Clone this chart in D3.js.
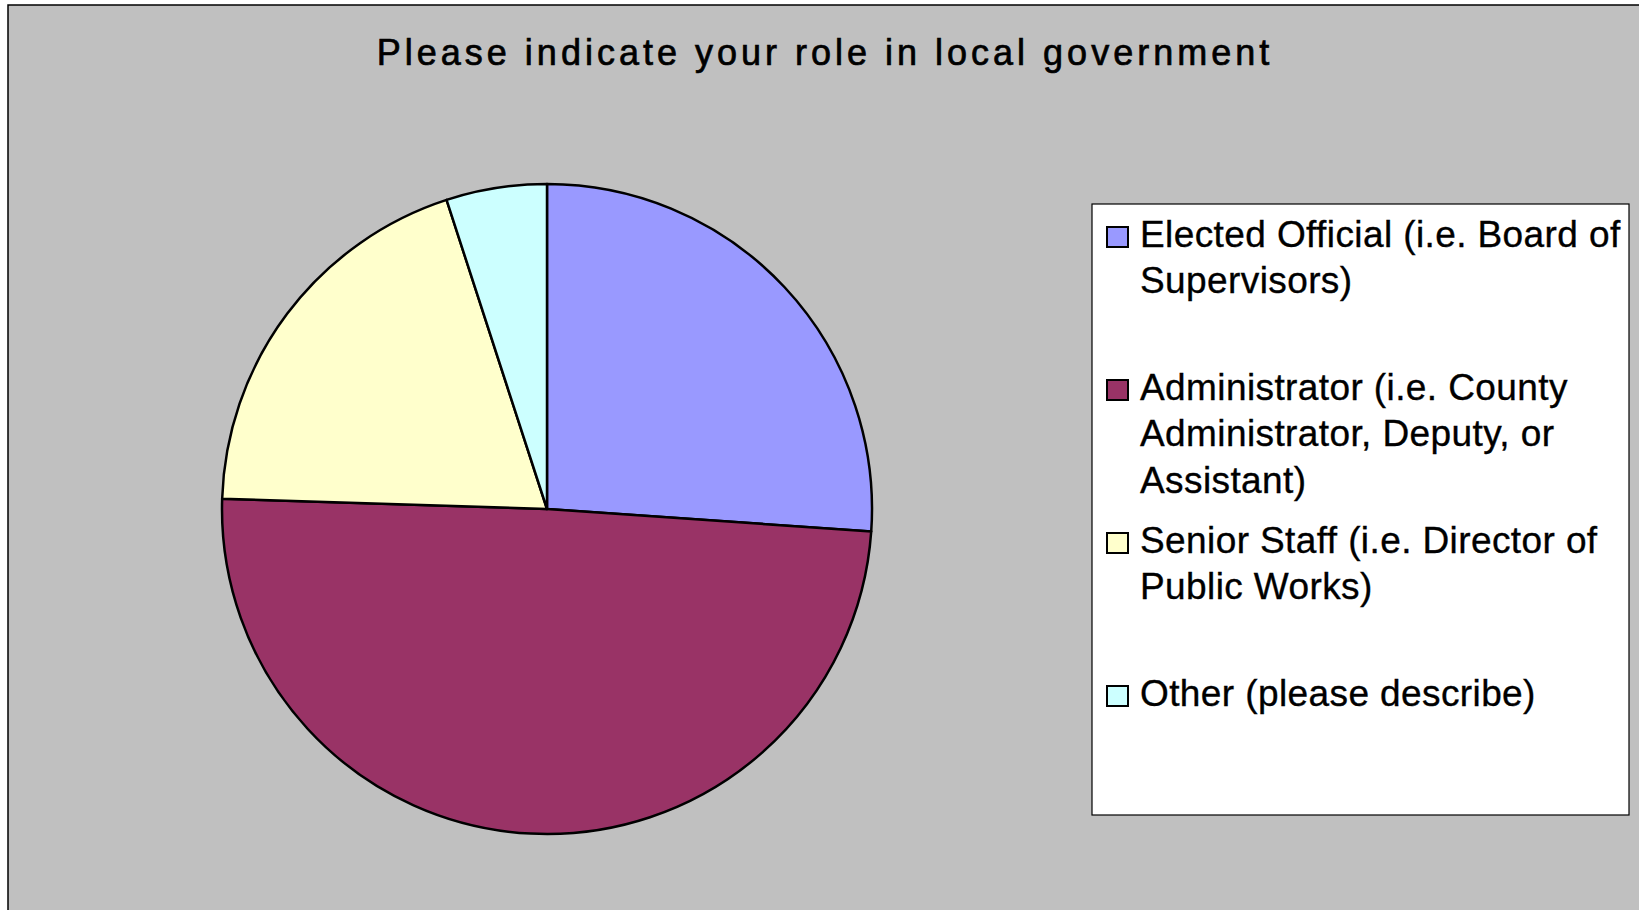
<!DOCTYPE html>
<html>
<head>
<meta charset="utf-8">
<script src="https://cdn.jsdelivr.net/npm/d3@7"></script>
<style>
  html, body { margin: 0; padding: 0; background: #ffffff; overflow: hidden; }
  svg { display: block; }
  text { font-family: "Liberation Sans", Arial, sans-serif; }
</style>
</head>
<body>
<svg id="chart" width="1639" height="910"></svg>
<script>
const title = "Please indicate your role in local government";
const categories = [
  "Elected Official (i.e. Board of Supervisors)",
  "Administrator (i.e. County Administrator, Deputy, or Assistant)",
  "Senior Staff (i.e. Director of Public Works)",
  "Other (please describe)"
];
const legendLines = [
  ["Elected Official (i.e. Board of", "Supervisors)"],
  ["Administrator (i.e. County", "Administrator, Deputy, or", "Assistant)"],
  ["Senior Staff (i.e. Director of", "Public Works)"],
  ["Other (please describe)"]
];
const values = [26.1, 49.4, 19.5, 5.0];
const colors = ["#9999FF", "#993366", "#FFFFCC", "#CCFFFF"];

const W = 1639, H = 910;
const svg = d3.select("#chart");

// Chart area background + border (extends beyond right/bottom)
svg.append("rect").attr("x", 0).attr("y", 0).attr("width", W).attr("height", H).attr("fill", "#ffffff");
svg.append("rect")
  .attr("x", 8).attr("y", 5).attr("width", W + 20).attr("height", H + 20)
  .attr("fill", "#C0C0C0").attr("stroke", "#000").attr("stroke-width", 1.5);

// Title
svg.append("text")
  .attr("x", 825).attr("y", 65)
  .attr("text-anchor", "middle")
  .attr("font-size", 36)
  .attr("letter-spacing", "4px")
  .attr("fill", "#000")
  .attr("stroke", "#000")
  .attr("stroke-width", 0.7)
  .text(title);

// Pie
const cx = 547, cy = 509, r = 325;
const pie = d3.pie().sort(null).value(d => d).startAngle(0).endAngle(2 * Math.PI);
const arc = d3.arc().innerRadius(0).outerRadius(r);
const color = d3.scaleOrdinal().domain(d3.range(values.length)).range(colors);

const g = svg.append("g").attr("transform", `translate(${cx},${cy})`);
g.selectAll("path")
  .data(pie(values))
  .join("path")
  .attr("d", arc)
  .attr("fill", (d, i) => color(i))
  .attr("stroke", "#000")
  .attr("stroke-width", 2.5)
  .attr("stroke-linejoin", "round");

// Legend
const lx = 1092, ly = 204, lw = 537, lh = 611;
svg.append("rect")
  .attr("x", lx).attr("y", ly).attr("width", lw).attr("height", lh)
  .attr("fill", "#fff").attr("stroke", "#000").attr("stroke-width", 1.2);

const itemY = d3.scaleLinear().domain([0, 1]).range([247, 400]); // baseline of first line per item
const lineH = 46.3;
const lg = svg.append("g");
categories.forEach((c, i) => {
  const by = itemY(i);
  lg.append("rect")
    .attr("x", 1107).attr("y", by - 20).attr("width", 21).attr("height", 20)
    .attr("fill", color(i)).attr("stroke", "#000").attr("stroke-width", 2);
  const t = lg.append("text")
    .attr("x", 1140).attr("y", by)
    .attr("font-size", 37)
    .attr("letter-spacing", "0.4px")
    .attr("fill", "#000")
    .attr("stroke", "#000")
    .attr("stroke-width", 0.35);
  legendLines[i].forEach((ln, j) => {
    t.append("tspan").attr("x", 1140).attr("y", by + j * lineH).text(ln);
  });
});
</script>
</body>
</html>
